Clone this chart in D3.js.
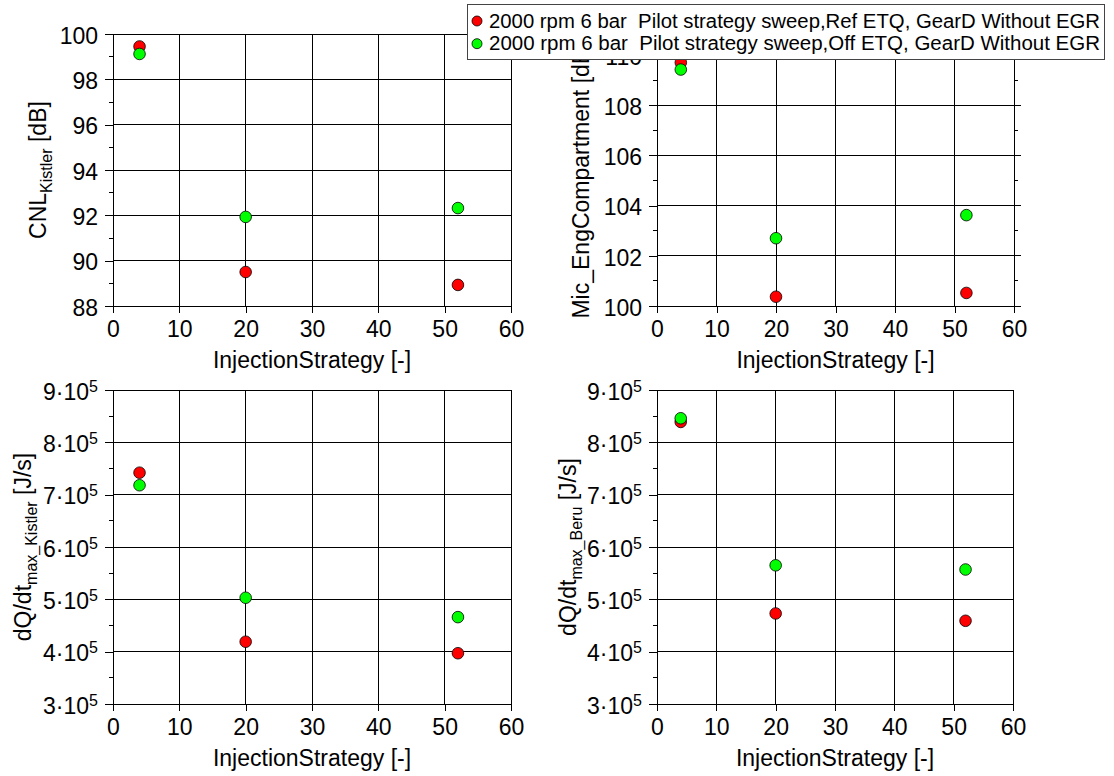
<!DOCTYPE html>
<html>
<head>
<meta charset="utf-8">
<script src="https://cdn.jsdelivr.net/npm/d3@7"></script>
<style>
  html, body { margin: 0; padding: 0; background: #fff; }
  svg { display: block; font-family: "Liberation Sans", Arial, sans-serif; }
  text { white-space: pre; }
</style>
</head>
<body>
<svg id="chart" width="1114" height="776"></svg>
<script>
// Injection strategy sweep at 2000 rpm / 6 bar: two ETQ settings
const strategy = [4, 20, 52];

const seriesNames = [
  "2000 rpm 6 bar  Pilot strategy sweep,Ref ETQ, GearD Without EGR",
  "2000 rpm 6 bar  Pilot strategy sweep,Off ETQ, GearD Without EGR"
];
const seriesColors = ["#ff0000", "#00ff00"];

const cnlRef = [99.45, 89.5, 88.93];
const cnlOff = [99.12, 91.93, 92.32];
const micRef = [109.7, 100.37, 100.52];
const micOff = [109.42, 102.7, 103.62];
const dqKistlerRef = [7.42e5, 4.19e5, 3.97e5];
const dqKistlerOff = [7.18e5, 5.03e5, 4.66e5];
const dqBeruRef = [8.39e5, 4.73e5, 4.59e5];
const dqBeruOff = [8.46e5, 5.65e5, 5.57e5];

const xTicks = [0, 10, 20, 30, 40, 50, 60];
const cnlTicks = [88, 90, 92, 94, 96, 98, 100];
const micTicks = [100, 102, 104, 106, 108, 110];
const dqTicks = [3e5, 4e5, 5e5, 6e5, 7e5, 8e5, 9e5];

const xTitle = "InjectionStrategy [-]";

const panels = [
  { box: [113, 511, 34, 306], yDomain: [88, 100], yTicks: cnlTicks, minorStep: 1,
    sci: false, title: ["CNL", "Kistler", " [dB]"], titleX: 46,
    series: [cnlRef, cnlOff], rightTicks: false },
  { box: [657, 1014, 55, 306], yDomain: [100, 110], yTicks: micTicks, minorStep: 1,
    sci: false, title: ["Mic_EngCompartment [dB]", "", ""], titleX: 589,
    series: [micRef, micOff], rightTicks: true },
  { box: [113, 511, 390, 704], yDomain: [3e5, 9e5], yTicks: dqTicks, minorStep: 0.5e5,
    sci: true, title: ["dQ/dt", "max_Kistler", " [J/s]"], titleX: 31,
    series: [dqKistlerRef, dqKistlerOff], rightTicks: false },
  { box: [657, 1013, 390, 704], yDomain: [3e5, 9e5], yTicks: dqTicks, minorStep: 0.5e5,
    sci: true, title: ["dQ/dt", "max_Beru", " [J/s]"], titleX: 576,
    series: [dqBeruRef, dqBeruOff], rightTicks: false }
];

const svg = d3.select("#chart");
const FONT = 23;

panels.forEach(p => {
  const [x0, x1, y0, y1] = p.box;
  const x = d3.scaleLinear().domain([0, 60]).range([x0, x1]);
  const y = d3.scaleLinear().domain(p.yDomain).range([y1, y0]);
  const g = svg.append("g");

  // grid
  const grid = g.append("g").attr("stroke", "#000").attr("stroke-width", 1)
    .attr("shape-rendering", "crispEdges");
  xTicks.forEach(t => grid.append("line")
    .attr("x1", x(t)).attr("x2", x(t)).attr("y1", y0).attr("y2", y1));
  p.yTicks.forEach(t => grid.append("line")
    .attr("x1", x0).attr("x2", x1).attr("y1", y(t)).attr("y2", y(t)));

  // bottom axis
  const xAxis = d3.axisBottom(x).tickValues(xTicks).tickSizeInner(7).tickSizeOuter(0)
    .tickFormat(d3.format("d")).tickPadding(7);
  const gx = g.append("g").attr("transform", `translate(0,${y1})`).call(xAxis);
  gx.select(".domain").attr("stroke", "#000").attr("shape-rendering", "crispEdges");
  gx.selectAll(".tick line").attr("stroke", "#000").attr("shape-rendering", "crispEdges");
  gx.selectAll(".tick text").attr("font-size", FONT).attr("fill", "#000")
    .attr("font-family", "Liberation Sans, Arial, sans-serif").attr("dy", "0.72em");

  // left axis
  const yAxis = d3.axisLeft(y).tickValues(p.yTicks).tickSizeInner(8).tickSizeOuter(0)
    .tickPadding(7).tickFormat(d => p.sci ? "" : d3.format("d")(d));
  const gy = g.append("g").attr("transform", `translate(${x0},0)`).call(yAxis);
  gy.select(".domain").attr("stroke", "#000").attr("shape-rendering", "crispEdges");
  gy.selectAll(".tick line").attr("stroke", "#000").attr("shape-rendering", "crispEdges");
  gy.selectAll(".tick text").attr("font-size", FONT).attr("fill", "#000")
    .attr("font-family", "Liberation Sans, Arial, sans-serif").attr("dy", "0.4em");
  if (p.sci) {
    gy.selectAll(".tick text").each(function(d) {
      const t = d3.select(this);
      t.text(null);
      t.append("tspan").text(`${Math.round(d / 1e5)}\u00b710`);
      t.append("tspan").attr("font-size", 16).attr("dy", -8).text("5");
    });
  }

  // minor ticks
  const minors = d3.range(p.yDomain[0] + p.minorStep, p.yDomain[1], p.minorStep * 2);
  const mg = g.append("g").attr("stroke", "#000").attr("shape-rendering", "crispEdges");
  minors.forEach(m => mg.append("line")
    .attr("x1", x0 - 4).attr("x2", x0).attr("y1", y(m)).attr("y2", y(m)));

  if (p.rightTicks) {
    p.yTicks.forEach(t => mg.append("line")
      .attr("x1", x1).attr("x2", x1 + 7).attr("y1", y(t)).attr("y2", y(t)));
    minors.forEach(m => mg.append("line")
      .attr("x1", x1).attr("x2", x1 + 4).attr("y1", y(m)).attr("y2", y(m)));
  }

  // x title
  g.append("text").attr("x", (x0 + x1) / 2).attr("y", y1 + 62)
    .attr("text-anchor", "middle").attr("font-size", FONT).attr("fill", "#000")
    .text(xTitle);

  // y title (rotated, with subscript)
  const yt = g.append("text")
    .attr("transform", `translate(${p.titleX},${(y0 + y1) / 2}) rotate(-90)`)
    .attr("text-anchor", "middle").attr("font-size", FONT).attr("fill", "#000");
  yt.append("tspan").text(p.title[0]);
  if (p.title[1]) {
    yt.append("tspan").attr("font-size", 16).attr("dy", 6).text(p.title[1]);
    yt.append("tspan").attr("dy", -6).text(p.title[2]);
  }

  // markers: reference ETQ first, then the off-ETQ series on top
  p.series.forEach((vals, si) => {
    g.append("g").selectAll("circle")
      .data(vals.map((v, i) => [strategy[i], v]))
      .join("circle")
      .attr("cx", d => x(d[0])).attr("cy", d => y(d[1])).attr("r", 5.8)
      .attr("fill", seriesColors[si]).attr("stroke", "#000").attr("stroke-width", 0.8);
  });
});

// legend
const lg = svg.append("g");
lg.append("rect").attr("x", 467.5).attr("y", 4.5).attr("width", 637).attr("height", 55)
  .attr("fill", "#fff").attr("stroke", "#444").attr("stroke-width", 1);
seriesNames.forEach((name, i) => {
  const cy = 21 + i * 22.7;
  lg.append("circle").attr("cx", 477).attr("cy", cy).attr("r", 5)
    .attr("fill", seriesColors[i]).attr("stroke", "#000").attr("stroke-width", 0.8);
  lg.append("text").attr("x", 489).attr("y", cy + 6.5).attr("font-size", 19.5)
    .attr("textLength", 611).attr("lengthAdjust", "spacingAndGlyphs")
    .attr("fill", "#000").text(name);
});
</script>
</body>
</html>
